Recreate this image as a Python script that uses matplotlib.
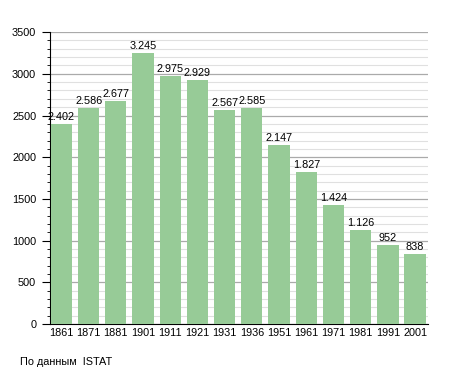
import matplotlib.pyplot as plt
from matplotlib.ticker import MultipleLocator

plt.rcParams['font.family'] = ['Liberation Sans', 'DejaVu Sans']

years = ['1861', '1871', '1881', '1901', '1911', '1921', '1931', '1936',
         '1951', '1961', '1971', '1981', '1991', '2001']
population = [2402, 2586, 2677, 3245, 2975, 2929, 2567, 2585,
              2147, 1827, 1424, 1126, 952, 838]
labels = ['2.402', '2.586', '2.677', '3.245', '2.975', '2.929', '2.567', '2.585',
          '2.147', '1.827', '1.424', '1.126', '952', '838']

fig = plt.figure(figsize=(4.55, 3.73), dpi=100)
ax = fig.add_axes([0.110, 0.131, 0.831, 0.783])

x = range(len(years))
ax.bar(x, population, width=0.78, color='#97cb97', zorder=3)
for i, (v, t) in enumerate(zip(population, labels)):
    ax.text(i, v + 25, t, ha='center', va='bottom', fontsize=7.8, zorder=4)

ax.set_xlim(-0.42, 13.48)
ax.set_ylim(0, 3500)
ax.yaxis.set_major_locator(MultipleLocator(500))
ax.yaxis.set_minor_locator(MultipleLocator(100))
ax.grid(axis='y', which='major', color='#aaaaaa', linewidth=0.9, zorder=0)
ax.grid(axis='y', which='minor', color='#e0e0e0', linewidth=0.8, zorder=0)
ax.set_xticks(list(x))
ax.set_xticklabels(years, fontsize=7.8)
ax.tick_params(axis='x', length=0, pad=3)
ax.tick_params(axis='y', which='major', length=6, labelsize=7.8, pad=4)
ax.tick_params(axis='y', which='minor', length=2.5)
for s in ['top', 'right']:
    ax.spines[s].set_visible(False)

fig.text(20 / 455, 1 - 362 / 373, 'По данным  ISTAT', fontsize=7.8, va='center')

fig.savefig('out.png', dpi=100)
